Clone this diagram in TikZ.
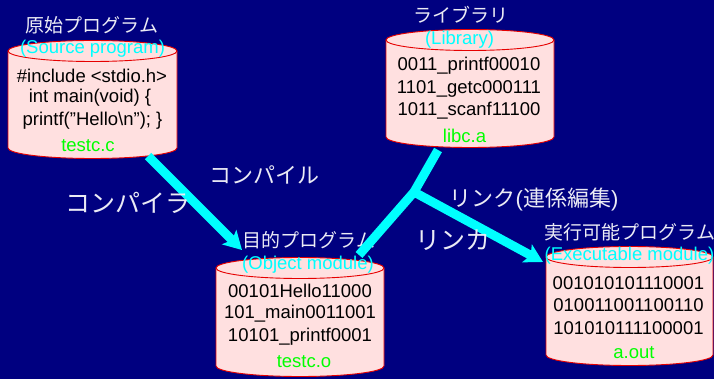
\documentclass[tikz,border=0pt]{standalone}
\usepackage{fontspec}
\setmainfont{Liberation Sans}
\newfontfamily\jp{Noto Sans CJK JP}
\usetikzlibrary{arrows.meta}
\definecolor{bgnavy}{RGB}{0,0,128}
\definecolor{cylpink}{RGB}{255,224,224}
\definecolor{cylred}{RGB}{230,0,0}
\definecolor{cyanc}{RGB}{0,255,255}
\definecolor{greenc}{RGB}{0,255,0}
\definecolor{titlec}{RGB}{235,235,245}
\newcommand\drumcyl[4]{%
  \path[fill=cylpink] ({#1-#3},{#2}) -- ({#1-#3},{#2+#4}) arc[start angle=180,end angle=360,x radius=#3pt,y radius=10.5pt] -- ({#1+#3},{#2}) arc[start angle=0,end angle=180,x radius=#3pt,y radius=10.5pt] -- cycle;
  \draw[cylline] ({#1-#3},{#2}) -- ({#1-#3},{#2+#4}) arc[start angle=180,end angle=360,x radius=#3pt,y radius=10.5pt] -- ({#1+#3},{#2});
  \draw[cylline] (#1,#2) ellipse[x radius=#3pt,y radius=10.5pt];
}
\tikzset{
  cylline/.style={draw=cylred,line width=0.9pt},
  ttl/.style={text=titlec,font=\jp\fontsize{19}{22}\selectfont,inner sep=0pt},
  sub/.style={text=cyanc,font=\fontsize{18.5}{22}\selectfont,inner sep=0pt},
  code/.style={text=black,font=\fontsize{18.5}{22}\selectfont,inner sep=0pt},
  fname/.style={text=greenc,font=\fontsize{18.5}{22}\selectfont,inner sep=0pt},
  biglbl/.style={text=titlec,font=\jp\fontsize{25}{28}\selectfont,inner sep=0pt},
  midlbl/.style={text=titlec,font=\jp\fontsize{22}{26}\selectfont,inner sep=0pt},
  flow/.style={draw=cyanc,line width=9pt},
  flowtip/.style={-{Stealth[length=18pt,width=20pt,inset=4pt]}}
}
\begin{document}
\begin{tikzpicture}[x=1pt,y=-1pt]
\fill[bgnavy] (0,0) rectangle (714,379);
\useasboundingbox (0,0) rectangle (714,379);

% cylinders
\drumcyl{92.5}{51}{84.5}{97}
\drumcyl{470}{40}{84}{97}
\drumcyl{300}{268}{84}{98}
\drumcyl{629.5}{257}{83.5}{98}

% source program
\node[ttl] (t1) at (92,25) {原始プログラム};
\node[sub] (s1) at (92.5,49) {(Source program)};
\node[code] (c1a) at (92,76) {\#include <stdio.h>};
\node[code] (c1b) at (90,98) {int main(void) \{};
\node[code] (c1c) at (92.5,121) {printf({\char34}Hello\textbackslash n{\char34}); \}};
\node[fname] (f1) at (88,146) {testc.c};

% library
\node[ttl] (t2) at (461,15) {ライブラリ};
\node[sub] (s2) at (459.5,40) {(Library)};
\node[code] (c2a) at (469,66) {0011\_printf00010};
\node[code] (c2b) at (469,89) {1101\_getc000111};
\node[code] (c2c) at (469,111) {1011\_scanf11100};
\node[fname] (f2) at (464.5,136) {libc.a};

% object module
\node[ttl] (t3) at (309,240) {目的プログラム};
\node[sub] (s3) at (308,265) {(Object module)};
\node[code] (c3a) at (300,291) {00101Hello11000};
\node[code] (c3b) at (300,314) {101\_main0011001};
\node[code] (c3c) at (300,337) {10101\_printf0001};
\node[fname] (f3) at (304,362) {testc.o};

% executable module
\node[ttl] (t4) at (630,232) {実行可能プログラム};
\node[sub] (s4) at (629.5,256) {(Executable module)};
\node[code] (c4a) at (628.5,283) {001010101110001};
\node[code] (c4b) at (628.5,305) {010011001100110};
\node[code] (c4c) at (628.5,328) {101010111100001};
\node[fname] (f4) at (634,353) {a.out};

% connectors
\coordinate (srcout) at (148,156);
\coordinate (objin) at (242,250);
\coordinate (libout) at (438,150);
\coordinate (jn) at (414,192);
\coordinate (objin2) at (359,255);
\coordinate (exein) at (543,262);
\draw[flow,flowtip] (srcout) -- (objin);
\draw[flow,line join=miter] (libout) -- (jn) -- (objin2);
\draw[flow,flowtip] (jn) -- (exein);

% labels
\node[biglbl] (l1) at (128,203) {コンパイラ};
\node[midlbl] (l2) at (264,175) {コンパイル};
\node[midlbl] (l3) at (534,200) {リンク{\fontspec{Liberation Sans}(}連係編集{\fontspec{Liberation Sans})}};
\node[biglbl] (l4) at (453,240) {リンカ};
\end{tikzpicture}
\end{document}
